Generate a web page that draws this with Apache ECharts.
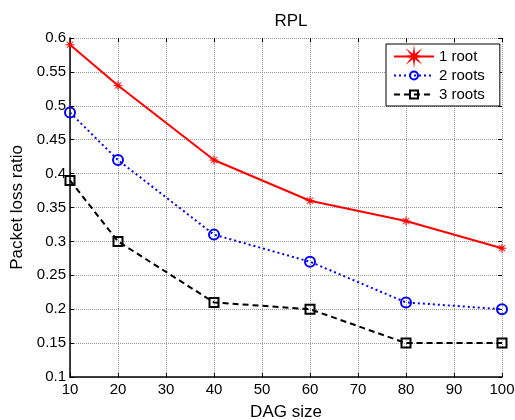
<!DOCTYPE html>
<html>
<head>
<meta charset="utf-8">
<script src="https://cdn.jsdelivr.net/npm/echarts@6/dist/echarts.min.js"></script>
<style>html,body{margin:0;padding:0;background:#fff}#c{width:515px;height:420px}</style>
</head>
<body>
<div id="c"></div>
<script>
const dagSizes = [10, 20, 40, 60, 80, 100];
const oneRoot = [0.59, 0.53, 0.42, 0.36, 0.33, 0.29];
const twoRoots = [0.49, 0.42, 0.31, 0.27, 0.21, 0.20];
const threeRoots = [0.39, 0.30, 0.21, 0.20, 0.15, 0.15];
const seriesNames = ['1 root', '2 roots', '3 roots'];

function starPath() {
  const pts = [];
  for (let k = 0; k < 16; k++) {
    const a = k * Math.PI / 8;
    const r = k % 2 === 0 ? 10 : 2.5;
    pts.push((10 + r * Math.cos(a)).toFixed(2) + ',' + (10 + r * Math.sin(a)).toFixed(2));
  }
  return 'path://M' + pts.join('L') + 'Z';
}
const pairs = (ys) => dagSizes.map((x, i) => [x, ys[i]]);
const font = 'Liberation Sans, Arial, Helvetica, sans-serif';
const chart = echarts.init(document.getElementById('c'), null, {renderer: 'canvas'});
const gridLine = {show: true, lineStyle: {color: '#999', type: [1, 1], width: 1}};
chart.setOption({
  animation: false,
  backgroundColor: '#fff',
  title: {text: 'RPL', left: 286, top: 8, textAlign: 'center',
    textStyle: {fontFamily: font, fontSize: 17, fontWeight: 'normal', color: '#000'}},
  grid: {left: 70, right: 13, top: 38, bottom: 43, containLabel: false, outerBoundsMode: 'none'},
  legend: {
    orient: 'vertical', left: 386, top: 44,
    backgroundColor: '#fff', borderColor: '#000', borderWidth: 1,
    padding: [5, 15, 4, 7], itemGap: 4, itemWidth: 40, itemHeight: 10,
    textStyle: {fontFamily: font, fontSize: 15, color: '#000', padding: [0, 0, 0, 0]},
    data: seriesNames
  },
  xAxis: [{
    type: 'value', min: 10, max: 100, interval: 10,
    name: 'DAG size', nameLocation: 'middle', nameGap: 27,
    nameTextStyle: {fontFamily: font, fontSize: 17, color: '#000'},
    axisLine: {lineStyle: {color: '#000', width: 1.5}},
    axisTick: {inside: true, length: 4, lineStyle: {color: '#000'}},
    axisLabel: {fontFamily: font, fontSize: 15, color: '#000', margin: 5},
    splitLine: gridLine
  }, {
    type: 'value', position: 'top', min: 10, max: 100, interval: 10,
    axisLine: {show: false}, axisLabel: {show: false}, splitLine: {show: false},
    axisTick: {inside: true, length: 4, lineStyle: {color: '#000'}}
  }],
  yAxis: [{
    type: 'value', min: 0.1, max: 0.6, interval: 0.05,
    name: 'Packet loss ratio', nameLocation: 'middle', nameGap: 43,
    nameTextStyle: {fontFamily: font, fontSize: 17, color: '#000'},
    axisLine: {show: true, lineStyle: {color: '#000', width: 1.5}},
    axisTick: {show: true, inside: true, length: 4, lineStyle: {color: '#000'}},
    axisLabel: {fontFamily: font, fontSize: 15, color: '#000', margin: 4,
      formatter: v => String(parseFloat(v.toFixed(2)))},
    splitLine: gridLine
  }, {
    type: 'value', position: 'right', min: 0.1, max: 0.6, interval: 0.05,
    axisLine: {show: false}, axisLabel: {show: false}, splitLine: {show: false},
    axisTick: {show: true, inside: true, length: 4, lineStyle: {color: '#000'}}
  }],
  series: [{
    name: seriesNames[0], type: 'line', data: pairs(oneRoot),
    symbol: starPath(), symbolSize: 9,
    itemStyle: {color: '#ff0000', borderColor: '#ff0000', borderWidth: 0.5},
    lineStyle: {color: '#ff0000', width: 2, type: 'solid'}, z: 4
  }, {
    name: seriesNames[1], type: 'line', data: pairs(twoRoots),
    symbol: 'circle', symbolSize: 10,
    itemStyle: {color: 'rgba(255,255,255,0)', borderColor: '#0000ff', borderWidth: 2},
    lineStyle: {color: '#0000ff', width: 2, type: [2, 3]}, z: 3
  }, {
    name: seriesNames[2], type: 'line', data: pairs(threeRoots),
    symbol: 'rect', symbolSize: 9,
    itemStyle: {color: 'rgba(255,255,255,0)', borderColor: '#000', borderWidth: 2},
    lineStyle: {color: '#000', width: 2, type: [6, 4]}, z: 2
  }]
});
</script>
</body>
</html>
